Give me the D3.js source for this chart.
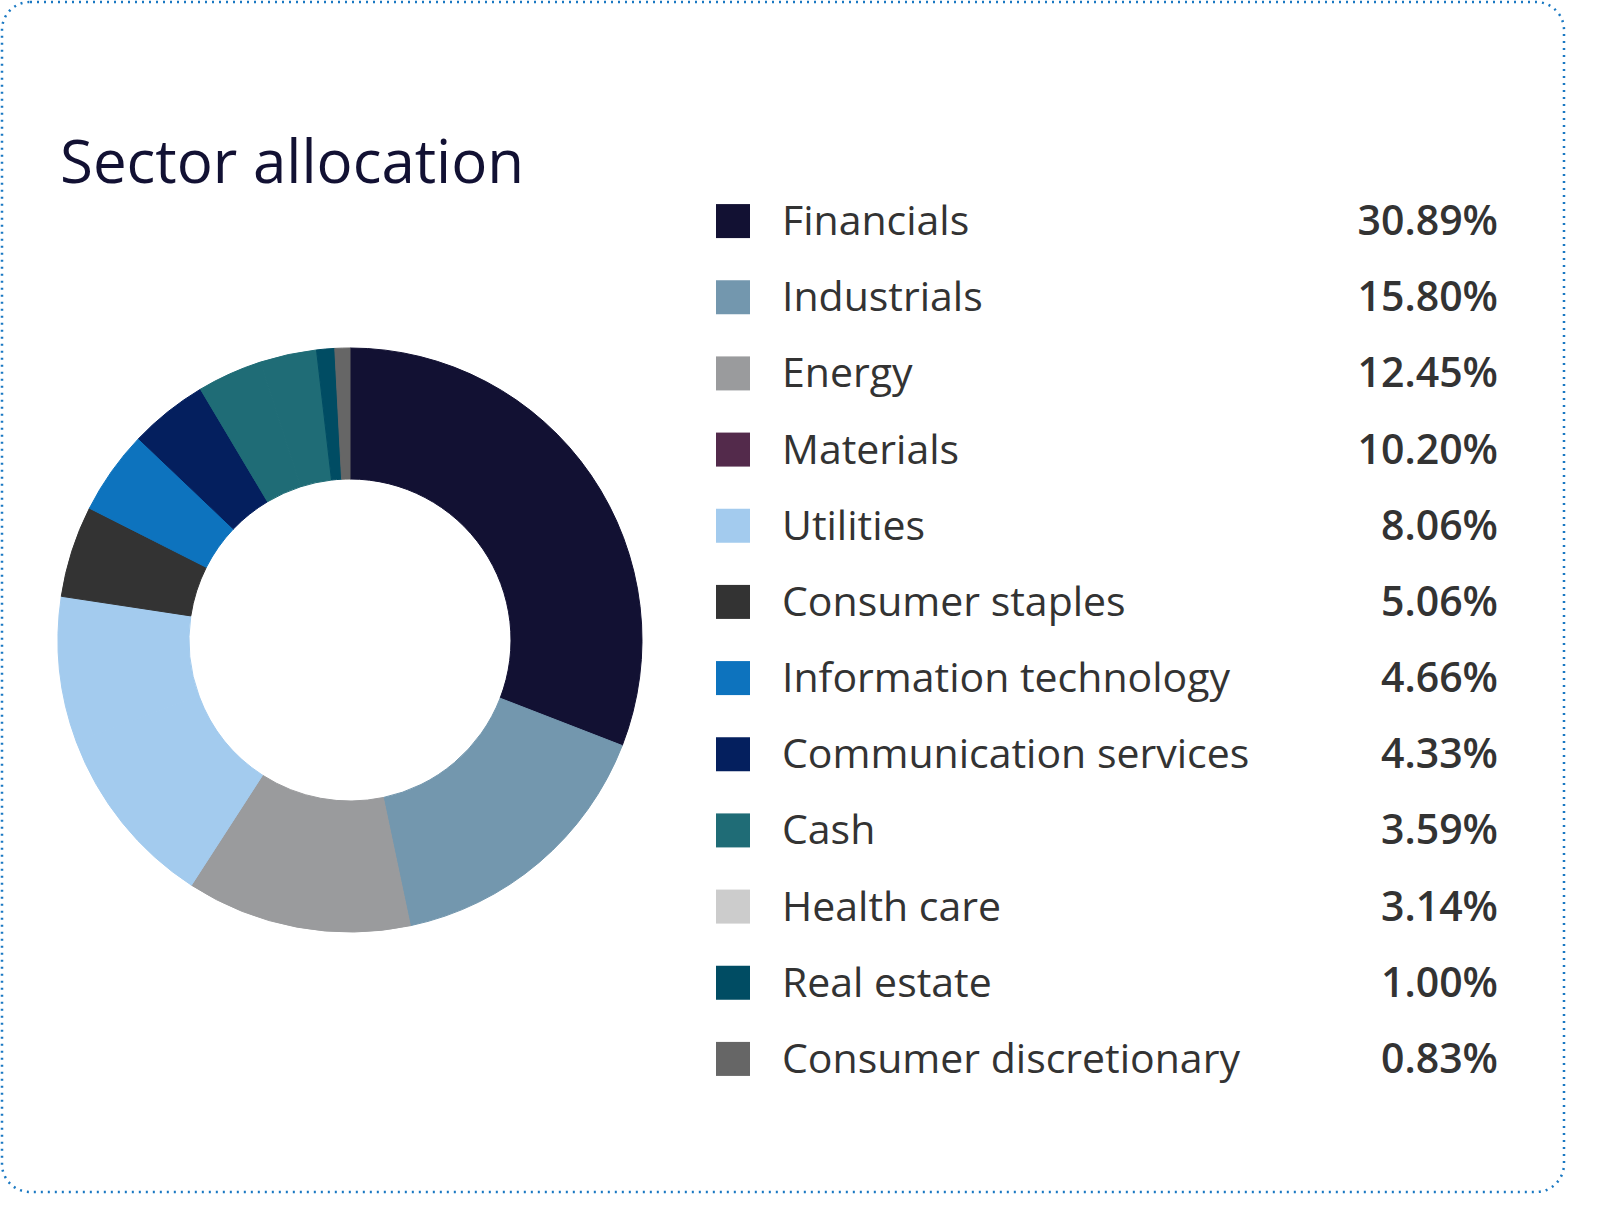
<!DOCTYPE html>
<html><head><meta charset="utf-8">
<script src="https://cdn.jsdelivr.net/npm/d3@7"></script>
<style>html,body{margin:0;background:#fff;font-family:"Open Sans",sans-serif;overflow:hidden}svg{display:block}</style>
</head><body>
<svg id="c" width="1597" height="1217"></svg>
<script>
const categories = ["Financials","Industrials","Energy","Materials","Utilities","Consumer staples","Information technology","Communication services","Cash","Health care","Real estate","Consumer discretionary"];
const values = [30.89,15.80,12.45,10.20,8.06,5.06,4.66,4.33,3.59,3.14,1.00,0.83];
const valueLabels = ["30.89%","15.80%","12.45%","10.20%","8.06%","5.06%","4.66%","4.33%","3.59%","3.14%","1.00%","0.83%"];
const legendColors = ["#121133","#7397ae","#9a9b9d","#532a4b","#a3cbee","#333333","#0d73be","#041f5e","#1f6c76","#cccccc","#004c63","#666666"];
const pieColors = ["#121133","#7397ae","#9a9b9d","#a3cbee","#a3cbee","#333333","#0d73be","#041f5e","#1f6c76","#1f6c76","#004c63","#666666"];

const svg = d3.select("#c");
svg.append("rect").attr("x",2).attr("y",2).attr("width",1562).attr("height",1190).attr("rx",28)
  .attr("fill","none").attr("stroke","#1a78c2").attr("stroke-width",2.5).attr("stroke-dasharray","2,5");
svg.append("text").attr("x",60).attr("y",183).attr("font-size",60).attr("fill","#121133").text("Sector allocation");

const pie = d3.pie().sort(null).value(d=>d)(values);
const arc = d3.arc().innerRadius(161).outerRadius(292);
const g = svg.append("g").attr("transform","translate(350,640)");
g.selectAll("path").data(pie).join("path").attr("d",arc)
  .attr("fill",(d,i)=>pieColors[i]).attr("stroke",(d,i)=>pieColors[i]).attr("stroke-width",1);

const y = d3.scaleBand().domain(categories).range([183,1097]);
const lg = svg.append("g");
categories.forEach((c,i)=>{
  const cy = y(c)+y.bandwidth()/2;
  lg.append("rect").attr("x",716).attr("y",cy-17).attr("width",34).attr("height",34).attr("fill",legendColors[i]);
  lg.append("text").attr("x",782).attr("y",cy+14).attr("font-size",41).attr("fill","#333").text(c);
  lg.append("text").attr("x",1498).attr("y",cy+14).attr("font-size",41).attr("font-weight",600)
    .attr("text-anchor","end").attr("fill","#333").text(valueLabels[i]);
});
</script></body></html>
